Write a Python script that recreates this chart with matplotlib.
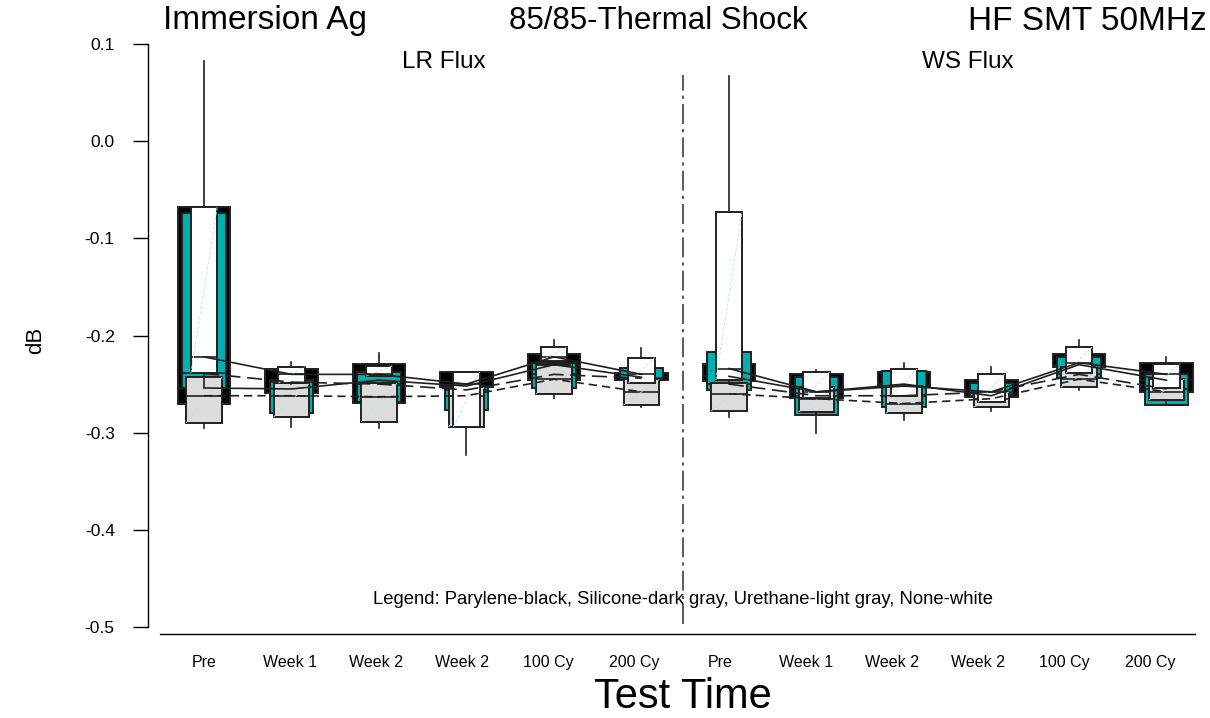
import matplotlib
matplotlib.use('Agg')
import matplotlib.pyplot as plt
import numpy as np

plt.rcParams['font.family'] = ['Liberation Sans', 'DejaVu Sans']
plt.rcParams['axes.unicode_minus'] = False

# ---------------- data ----------------
time_labels = ['Pre', 'Week 1', 'Week 2', 'Week 2', '100 Cy', '200 Cy',
               'Pre', 'Week 1', 'Week 2', 'Week 2', '100 Cy', '200 Cy']
panel_labels = ['LR Flux', 'WS Flux']
y_ticks = [-0.5, -0.4, -0.3, -0.2, -0.1, 0.0, 0.1]

# Parylene (black)
par_q1 = [-0.270, -0.259, -0.2695, -0.253, -0.246, -0.246, -0.247, -0.264, -0.253, -0.2633, -0.232, -0.258]
par_q3 = [-0.068, -0.2345, -0.229, -0.2375, -0.219, -0.2386, -0.229, -0.2396, -0.2375, -0.246, -0.219, -0.228]
par_med = [-0.254, -0.255, -0.246, -0.252, -0.230, -0.243, -0.242, -0.258, -0.250, -0.262, -0.230, -0.246]
par_lo = par_q1
par_hi = par_q3

# Silicone (dark gray / teal)
sil_q1 = [-0.254, -0.2798, -0.2685, -0.2767, -0.254, -0.246, -0.256, -0.2818, -0.2736, -0.262, -0.2437, -0.2715]
sil_q3 = [-0.074, -0.246, -0.2375, -0.253, -0.228, -0.233, -0.217, -0.243, -0.2365, -0.249, -0.222, -0.240]
sil_med = [-0.239, -0.248, -0.250, -0.256, -0.240, -0.244, -0.250, -0.262, -0.262, -0.258, -0.240, -0.255]
sil_lo = sil_q1
sil_hi = sil_q3

# Urethane (light gray)
ure_q1 = [-0.290, -0.284, -0.289, -0.294, -0.260, -0.2715, -0.2777, -0.2787, -0.280, -0.2736, -0.253, -0.2664]
ure_q3 = [-0.243, -0.249, -0.249, -0.253, -0.230, -0.245, -0.249, -0.253, -0.252, -0.258, -0.232, -0.245]
ure_med = [-0.262, -0.262, -0.263, -0.262, -0.245, -0.258, -0.260, -0.265, -0.270, -0.265, -0.245, -0.258]
ure_lo = [-0.295, -0.294, -0.295, -0.294, -0.264, -0.2735, -0.284, -0.300, -0.287, -0.2777, -0.256, -0.272]
ure_hi = ure_q3

# None (white)
non_q1 = [-0.239, -0.249, -0.2417, -0.294, -0.226, -0.249, -0.2458, -0.264, -0.262, -0.2685, -0.239, -0.254]
non_q3 = [-0.068, -0.232, -0.2314, -0.2375, -0.212, -0.223, -0.0725, -0.2375, -0.2345, -0.2396, -0.212, -0.229]
non_med = [-0.222, -0.240, -0.240, -0.250, -0.222, -0.240, -0.234, -0.258, -0.252, -0.258, -0.228, -0.240]
non_lo = [-0.253, -0.250, -0.2417, -0.323, -0.226, -0.249, -0.250, -0.264, -0.262, -0.2685, -0.239, -0.254]
non_hi = [0.082, -0.227, -0.218, -0.2375, -0.205, -0.213, 0.067, -0.236, -0.228, -0.232, -0.205, -0.222]

series = [
    dict(q1=par_q1, q3=par_q3, med=par_med, lo=par_lo, hi=par_hi,
         color='#000000', width=0.60, ls='-', diag=None),
    dict(q1=sil_q1, q3=sil_q3, med=sil_med, lo=sil_lo, hi=sil_hi,
         color='#00B0B0', width=0.50, ls=(0, (9, 4)), diag=None),
    dict(q1=ure_q1, q3=ure_q3, med=ure_med, lo=ure_lo, hi=ure_hi,
         color='#DCDCDC', width=0.41, ls=(0, (5, 3)), diag='#B8E4E4'),
    dict(q1=non_q1, q3=non_q3, med=non_med, lo=non_lo, hi=non_hi,
         color='#FFFFFF', width=0.30, ls='-', diag='#B8E8E8'),
]

positions = np.arange(12)
tick_pos = positions * 0.983

# ---------------- figure ----------------
W, H = 1210, 718
fig = plt.figure(figsize=(W / 100, H / 100), dpi=100)
ax = fig.add_axes([148 / W, 1 - 627 / H, (1195 - 148) / W, (627 - 44) / H])

for k, s in enumerate(series):
    stats = []
    for i in range(12):
        stats.append(dict(q1=s['q1'][i], q3=s['q3'][i], med=s['med'][i],
                          whislo=s['lo'][i], whishi=s['hi'][i], fliers=[]))
    z = 2 + k
    ax.bxp(stats, positions=positions, widths=s['width'], patch_artist=True,
           showcaps=False, showfliers=False,
           boxprops=dict(facecolor=s['color'], edgecolor='#202020', linewidth=1.4, zorder=z),
           medianprops=dict(color='#202020', linewidth=1.2, zorder=z),
           whiskerprops=dict(color='#202020', linewidth=1.2, zorder=z),
           manage_ticks=False)
    if s['diag'] is not None:
        for i in range(12):
            hw = s['width'] / 2
            ax.plot([positions[i] - hw, positions[i] + hw], [s['q1'][i], s['q3'][i]],
                    color=s['diag'], lw=0.6, ls=(0, (4, 2)), zorder=z + 0.1)

# connecting lines (per panel)
for s in series:
    for seg in (slice(0, 6), slice(6, 12)):
        ax.plot(positions[seg], np.array(s['med'])[seg], color='#202020',
                lw=1.2, ls=s['ls'], zorder=10)

# panel divider
ax.plot([5.47, 5.47], [-0.497, 0.068], color='#404040', lw=1.2,
        ls=(0, (12, 3, 2, 3)), zorder=1)

ax.set_xlim(-0.64, 11.326)
ax.set_ylim(-0.5, 0.1)
ax.set_yticks(y_ticks)
ax.set_yticklabels([f"{v:.1f}" for v in y_ticks])
ax.set_xticks(tick_pos)
ax.set_xticklabels(time_labels)
ax.tick_params(axis='y', direction='out', length=11, width=1, labelsize=12.5, pad=13)
ax.tick_params(axis='x', length=0, labelsize=11.5, pad=15)

for sp in ('top', 'right'):
    ax.spines[sp].set_visible(False)
ax.spines['left'].set_linewidth(1)
ax.spines['bottom'].set_linewidth(1)
ax.spines['bottom'].set_position(('outward', 5))
ax.spines['bottom'].set_bounds(-0.503, 11.326)

ax.set_ylabel('dB', fontsize=16)
ax.yaxis.set_label_coords(-(148 - 36) / 1047, (627 - 340) / 583)
ax.yaxis.label.set_va('center')
ax.set_xlabel('Test Time', fontsize=30)
ax.xaxis.set_label_coords((683 - 148) / 1047, -(697 - 627) / 583)
ax.xaxis.label.set_va('center')

# titles and annotations
fig.text(163 / W, 1 - 21 / H, 'Immersion Ag', fontsize=24, ha='left', va='center')
fig.text(658 / W, 1 - 21 / H, '85/85-Thermal Shock', fontsize=22.5, ha='center', va='center')
fig.text(1207 / W, 1 - 21 / H, 'HF SMT 50MHz', fontsize=24, ha='right', va='center')
ax.text(2.737, 0.081, panel_labels[0], fontsize=17.5, ha='center', va='center')
ax.text(8.726, 0.081, panel_labels[1], fontsize=17.5, ha='center', va='center')
ax.text(5.47, -0.472, 'Legend: Parylene-black, Silicone-dark gray, Urethane-light gray, None-white',
        fontsize=13.3, ha='center', va='center')

fig.savefig('out.png', dpi=100)
